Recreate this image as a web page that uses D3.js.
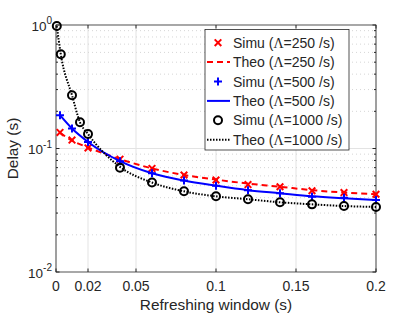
<!DOCTYPE html>
<html>
<head>
<meta charset="utf-8">
<script src="https://cdn.jsdelivr.net/npm/d3@7"></script>
<style>
  body { margin: 0; background: white; }
  text { font-family: "Liberation Sans", Arial, sans-serif; fill: #262626; }
</style>
</head>
<body>
<svg id="chart" width="415" height="318"></svg>
<script>
// refreshing window (s)
const xLow = [0.0025, 0.01, 0.02, 0.04, 0.06, 0.08, 0.1, 0.12, 0.14, 0.16, 0.18, 0.2];
const xHigh = [0.0005, 0.003, 0.01, 0.015, 0.02, 0.04, 0.06, 0.08, 0.1, 0.12, 0.14, 0.16, 0.18, 0.2];

// delay (s)
const simu250 = [0.135, 0.117, 0.101, 0.082, 0.069, 0.061, 0.0556, 0.051, 0.049, 0.0455, 0.044, 0.0426];
const theo250 = [0.134, 0.116, 0.102, 0.082, 0.069, 0.061, 0.056, 0.052, 0.049, 0.046, 0.044, 0.0426];
const simu500 = [0.186, 0.145, 0.113, 0.079, 0.063, 0.055, 0.050, 0.046, 0.0434, 0.0407, 0.040, 0.0383];
const theo500 = [0.186, 0.145, 0.113, 0.079, 0.063, 0.055, 0.050, 0.046, 0.0434, 0.041, 0.0395, 0.0383];
const simu1000 = [0.98, 0.58, 0.27, 0.163, 0.131, 0.070, 0.053, 0.045, 0.041, 0.0388, 0.0367, 0.0353, 0.0342, 0.0336];
const theo1000 = [0.98, 0.58, 0.27, 0.163, 0.131, 0.071, 0.053, 0.045, 0.041, 0.0388, 0.0367, 0.0353, 0.0342, 0.0336];

const xTicks = [0, 0.02, 0.05, 0.1, 0.15, 0.2];
const xTickLabels = ["0", "0.02", "0.05", "0.1", "0.15", "0.2"];
const yTicks = [1, 0.1, 0.01];
const yTickExps = ["0", "-1", "-2"];

const series = [
  { label: "250", x: xLow, simu: simu250, theo: theo250, color: "#ff0000", dash: "6,4", marker: "x" },
  { label: "500", x: xLow, simu: simu500, theo: theo500, color: "#0000ff", dash: null, marker: "+" },
  { label: "1000", x: xHigh, simu: simu1000, theo: theo1000, color: "#000000", dash: "1.5,1.5", marker: "o" }
];

const pLeft = 56, pRight = 376, pTop = 25, pBottom = 272;
const svg = d3.select("#chart");
const x = d3.scaleLinear().domain([0, 0.2]).range([pLeft, pRight]);
const y = d3.scaleLog().domain([0.01, 1]).range([pBottom, pTop]);

// grid
const grid = svg.append("g");
xTicks.forEach(t => {
  grid.append("line").attr("x1", x(t)).attr("x2", x(t)).attr("y1", pTop).attr("y2", pBottom)
    .attr("stroke", "#e3e3e3").attr("stroke-width", 1);
});
const minorY = [];
[0.01, 0.1].forEach(d => { for (let k = 2; k <= 9; k++) minorY.push(d * k); });
minorY.forEach(v => {
  grid.append("line").attr("x1", pLeft).attr("x2", pRight).attr("y1", y(v)).attr("y2", y(v))
    .attr("stroke", "#d6d6d6").attr("stroke-dasharray", "1,3");
});
grid.append("line").attr("x1", pLeft).attr("x2", pRight).attr("y1", y(0.1)).attr("y2", y(0.1))
  .attr("stroke", "#e3e3e3");

// axes
const axG = svg.append("g");
axG.append("rect").attr("x", pLeft).attr("y", pTop).attr("width", pRight - pLeft).attr("height", pBottom - pTop)
  .attr("fill", "none").attr("stroke", "#262626").attr("stroke-width", 0.8);
xTicks.forEach(t => {
  axG.append("line").attr("x1", x(t)).attr("x2", x(t)).attr("y1", pBottom).attr("y2", pBottom - 3.5).attr("stroke", "#262626");
  axG.append("line").attr("x1", x(t)).attr("x2", x(t)).attr("y1", pTop).attr("y2", pTop + 3.5).attr("stroke", "#262626");
});
minorY.concat(yTicks).forEach(v => {
  const len = yTicks.includes(v) ? 3.5 : 2;
  axG.append("line").attr("x1", pLeft).attr("x2", pLeft + len).attr("y1", y(v)).attr("y2", y(v)).attr("stroke", "#262626");
  axG.append("line").attr("x1", pRight).attr("x2", pRight - len).attr("y1", y(v)).attr("y2", y(v)).attr("stroke", "#262626");
});
xTicks.forEach((t, i) => {
  axG.append("text").attr("x", x(t)).attr("y", pBottom + 19).attr("text-anchor", "middle")
    .attr("font-size", 14).text(xTickLabels[i]);
});
yTicks.forEach((v, i) => {
  const tx = axG.append("text").attr("x", 52).attr("y", y(v) + 5.5).attr("text-anchor", "end").attr("font-size", 13.5);
  tx.append("tspan").text("10");
  tx.append("tspan").attr("dy", -6.5).attr("font-size", 10).text(yTickExps[i]);
});
svg.append("text").attr("x", (pLeft + pRight) / 2).attr("y", 310).attr("text-anchor", "middle")
  .attr("font-size", 15.4).text("Refreshing window (s)");
svg.append("text").attr("transform", `translate(18,${(pTop + pBottom) / 2}) rotate(-90)`)
  .attr("text-anchor", "middle").attr("font-size", 15.4).text("Delay (s)");

// lines and markers
const line = d3.line().x(d => x(d[0])).y(d => y(d[1])).curve(d3.curveMonotoneX);
const plot = svg.append("g");
function drawMarker(g, type, cx, cy, color) {
  if (type === "x") {
    g.append("path").attr("d", `M${cx - 3.3},${cy - 3.3}L${cx + 3.3},${cy + 3.3}M${cx - 3.3},${cy + 3.3}L${cx + 3.3},${cy - 3.3}`)
      .attr("stroke", color).attr("stroke-width", 2).attr("fill", "none");
  } else if (type === "+") {
    g.append("path").attr("d", `M${cx - 4},${cy}L${cx + 4},${cy}M${cx},${cy - 4}L${cx},${cy + 4}`)
      .attr("stroke", color).attr("stroke-width", 2).attr("fill", "none");
  } else {
    g.append("circle").attr("cx", cx).attr("cy", cy).attr("r", 4)
      .attr("stroke", color).attr("stroke-width", 2).attr("fill", "none");
  }
}
series.forEach(s => {
  const pts = s.x.map((xv, i) => [xv, s.theo[i]]);
  plot.append("path").attr("d", line(pts)).attr("fill", "none").attr("stroke", s.color)
    .attr("stroke-width", 2).attr("stroke-dasharray", s.dash);
  s.x.forEach((xv, i) => drawMarker(plot, s.marker, x(xv), y(s.simu[i]), s.color));
});

// legend
const lg = svg.append("g");
lg.append("rect").attr("x", 205).attr("y", 29.5).attr("width", 144).attr("height", 120.5)
  .attr("fill", "white").attr("stroke", "#262626").attr("stroke-width", 0.8);
series.forEach((s, i) => {
  const ys = 42.7 + i * 2 * 19.4;
  const yt = ys + 19.4;
  drawMarker(lg, s.marker, 218, ys, s.color);
  lg.append("line").attr("x1", 207).attr("x2", 230).attr("y1", yt).attr("y2", yt)
    .attr("stroke", s.color).attr("stroke-width", 2).attr("stroke-dasharray", s.dash);
  [["Simu", ys], ["Theo", yt]].forEach(([name, yy]) => {
    const t = lg.append("text").attr("x", 233).attr("y", yy + 5).attr("font-size", 14);
    t.append("tspan").text(name + " (");
    t.append("tspan").attr("font-family", "'Liberation Serif', serif").text("Λ");
    t.append("tspan").text("=" + s.label + " /s)");
  });
});
</script>
</body>
</html>
